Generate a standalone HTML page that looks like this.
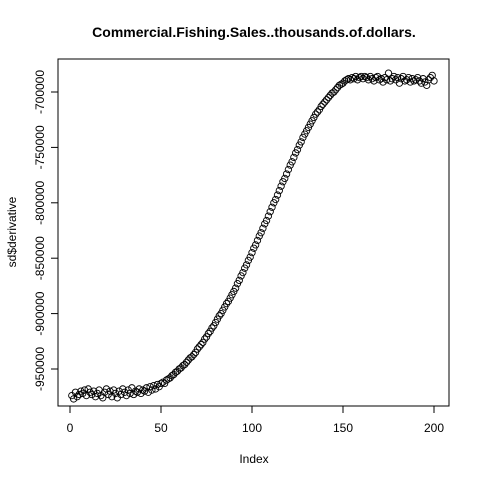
<!DOCTYPE html>
<html><head><meta charset="utf-8"><style>body{margin:0;background:#fff}svg{display:block;font-family:"Liberation Sans",Arial,sans-serif}</style></head>
<body>
<svg id="c" width="480" height="480">
<text x="254" y="37" text-anchor="middle" font-size="14" font-weight="bold">Commercial.Fishing.Sales..thousands.of.dollars.</text>
<rect x="58" y="59" width="391" height="347" fill="none" stroke="#000"/>
<text x="254" y="463" text-anchor="middle" font-size="12">Index</text>
<text transform="translate(16,232) rotate(-90)" text-anchor="middle" font-size="12">sd$derivative</text>
<g id="ax"></g><g id="pts"></g>
</svg>
<script>
const values=[-974,-977,-971,-975,-973,-970,-972,-969,-974,-968,
-971,-973,-970,-975,-972,-969,-974,-976,-971,-968,
-973,-970,-975,-969,-972,-976,-970,-973,-968,-971,
-974,-969,-972,-967,-973,-970,-971,-968,-972,-969,
-970,-967,-971,-966,-969,-965,-968,-964,-966,-963,
-962,-963,-960,-959,-958,-956,-955,-953,-952,-950,
-949,-947,-946,-944,-942,-940,-939,-937,-935,-932,
-930,-928,-926,-923,-921,-918,-916,-913,-911,-908,
-905,-902,-900,-897,-894,-891,-889,-886,-883,-880,
-877,-873,-870,-866,-863,-859,-856,-852,-849,-845,
-841,-838,-834,-830,-827,-823,-819,-816,-812,-808,
-804,-800,-797,-793,-789,-785,-781,-778,-774,-770,
-766,-763,-759,-755,-752,-748,-745,-741,-738,-735,
-732,-729,-726,-723,-720,-718,-716,-713,-711,-709,
-707,-705,-703,-701,-700,-698,-696,-694,-693,-692,
-690,-689,-688,-689,-687,-688,-686,-689,-687,-686,
-688,-686,-687,-689,-686,-688,-690,-687,-686,-689,
-688,-691,-687,-689,-683,-690,-688,-686,-689,-687,
-692,-688,-686,-690,-689,-687,-691,-688,-690,-689,
-687,-690,-692,-688,-691,-694,-689,-687,-685,-690];
const xTicks=[0,50,100,150,200];
const yTicks=[-950000,-900000,-850000,-800000,-750000,-700000];
const NS="http://www.w3.org/2000/svg";
const sx=v=>70+v*1.82;
const sy=v=>92+(-700000-v)*0.001108;
const ax=document.getElementById('ax'),pts=document.getElementById('pts');
function mk(t,a,p){const e=document.createElementNS(NS,t);for(const k in a)e.setAttribute(k,a[k]);p.appendChild(e);return e;}
mk('line',{x1:sx(0),x2:sx(200),y1:406,y2:406,stroke:'#000'},ax);
xTicks.forEach(v=>{const l=mk('line',{x1:sx(v),x2:sx(v),y1:406,y2:413,stroke:'#000'},ax);


const t=mk('text',{x:sx(v),y:432,'text-anchor':'middle','font-size':12},ax);t.textContent=v;

});
mk('line',{x1:58,x2:58,y1:sy(-950000),y2:sy(-700000),stroke:'#000'},ax);
yTicks.forEach(v=>{const l=mk('line',{x1:51,x2:58,y1:sy(v),y2:sy(v),stroke:'#000'},ax);


const t=mk('text',{transform:`translate(44,${sy(v)}) rotate(-90)`,'text-anchor':'middle','font-size':12},ax);t.textContent=v;

});
values.forEach((v,i)=>{const c=mk('circle',{cx:sx(i+1),cy:sy(v*1000),r:3.2,fill:'none',stroke:'#000','stroke-width':0.9},pts);

});
</script>
</body></html>
